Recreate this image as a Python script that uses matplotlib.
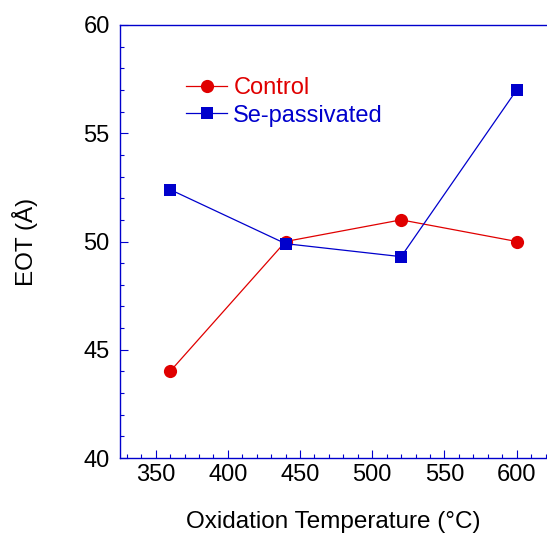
import matplotlib
matplotlib.use("Agg")
import matplotlib.pyplot as plt
from matplotlib.ticker import MultipleLocator

# datos
temp = [360, 440, 520, 600]  # °C
eot_control = [44.0, 50.0, 51.0, 50.0]
eot_se = [52.4, 49.9, 49.3, 57.0]

rojo = "#e00000"
azul = "#0000cc"

plt.rcParams["font.family"] = ["Liberation Sans", "DejaVu Sans"]

fig = plt.figure(figsize=(5.47, 5.33), dpi=100)
ax = fig.add_axes([0.2185, 0.1407, 0.7815, 0.8124])

ax.plot(temp, eot_control, color=rojo, lw=0.9, marker="o", ms=9.5,
        markeredgewidth=0, label="Control")
ax.plot(temp, eot_se, color=azul, lw=0.9, marker="s", ms=9,
        markeredgewidth=0, label="Se-passivated")

ax.set_xlim(325, 621)
ax.set_ylim(40, 60)
ax.xaxis.set_major_locator(MultipleLocator(50))
ax.xaxis.set_minor_locator(MultipleLocator(10))
ax.yaxis.set_major_locator(MultipleLocator(5))
ax.yaxis.set_minor_locator(MultipleLocator(1))

for s in ["left", "bottom", "top"]:
    ax.spines[s].set_color(azul)
    ax.spines[s].set_linewidth(1.0)
ax.spines["right"].set_visible(False)

ax.tick_params(which="both", direction="in", color=azul, labelsize=17)
ax.tick_params(which="major", length=6, width=0.8, pad=7)
ax.tick_params(which="minor", length=3, width=0.8)
ax.tick_params(axis="x", which="major", pad=4)

ax.set_xlabel("Oxidation Temperature (°C)", fontsize=17.5, labelpad=18)
ax.set_ylabel("EOT (Å)", fontsize=17.5, labelpad=33)

leg = ax.legend(loc="upper left", bbox_to_anchor=(0.128, 0.907), frameon=False,
                fontsize=17, handlelength=1.75, handletextpad=0.25,
                labelspacing=0.23, borderpad=0)
for txt, c in zip(leg.get_texts(), [rojo, azul]):
    txt.set_color(c)

fig.savefig("out.png", dpi=100)
